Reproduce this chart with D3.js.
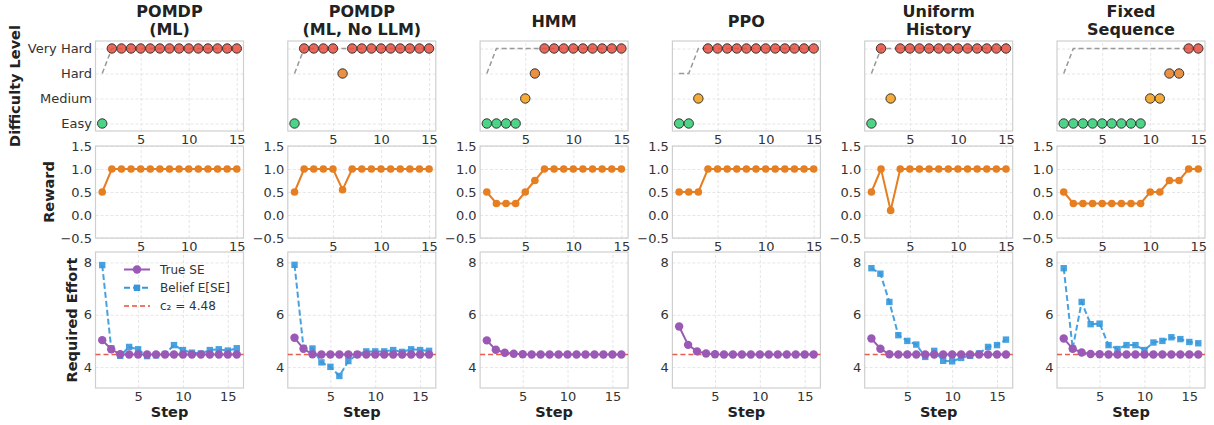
<!DOCTYPE html>
<html lang="en">
<head>
<meta charset="utf-8">
<title>Curriculum comparison</title>
<style>
  body { margin: 0; background: #fff; font-family: "DejaVu Sans", sans-serif; }
  .grid line { stroke: #e0e0e0; stroke-dasharray: 3,2; stroke-width: 0.8; }
  .grid path { display: none; }
  .ticks path { display: none; }
  .ticks text { font: 13px "DejaVu Sans", sans-serif; fill: #333; }
</style>
</head>
<body>
<svg id="chart"></svg>
<script src="https://cdn.jsdelivr.net/npm/d3@7/dist/d3.min.js"></script>
<script>
const width = 1214, height = 425;

// ---- data ----
const titles = [["POMDP", "(ML)"], ["POMDP", "(ML, No LLM)"], ["HMM"], ["PPO"], ["Uniform", "History"], ["Fixed", "Sequence"]];
const levelNames = ["Easy", "Medium", "Hard", "Very Hard"];
const levelColors = ["#2ecc71", "#f39c12", "#e67e22", "#e74c3c"];

// chosen difficulty per step (0 = Easy ... 3 = Very Hard), steps 1..15
const difficulty = [
  [0, 3, 3, 3, 3, 3, 3, 3, 3, 3, 3, 3, 3, 3, 3],
  [0, 3, 3, 3, 3, 2, 3, 3, 3, 3, 3, 3, 3, 3, 3],
  [0, 0, 0, 0, 1, 2, 3, 3, 3, 3, 3, 3, 3, 3, 3],
  [0, 0, 1, 3, 3, 3, 3, 3, 3, 3, 3, 3, 3, 3, 3],
  [0, 3, 1, 3, 3, 3, 3, 3, 3, 3, 3, 3, 3, 3, 3],
  [0, 0, 0, 0, 0, 0, 0, 0, 0, 1, 1, 2, 2, 3, 3]
];
// gray dashed reference level, steps 1..15
const targetLevel = [
  [2, 3, 3, 3, 3, 3, 3, 3, 3, 3, 3, 3, 3, 3, 3],
  [2, 3, 3, 3, 3, 3, 3, 3, 3, 3, 3, 3, 3, 3, 3],
  [2, 3, 3, 3, 3, 3, 3, 3, 3, 3, 3, 3, 3, 3, 3],
  [2, 2, 3, 3, 3, 3, 3, 3, 3, 3, 3, 3, 3, 3, 3],
  [2, 3, 3, 3, 3, 3, 3, 3, 3, 3, 3, 3, 3, 3, 3],
  [2, 3, 3, 3, 3, 3, 3, 3, 3, 3, 3, 3, 3, 3, 3]
];
// reward per step, steps 1..15
const reward = [
  [0.5, 1, 1, 1, 1, 1, 1, 1, 1, 1, 1, 1, 1, 1, 1],
  [0.5, 1, 1, 1, 1, 0.55, 1, 1, 1, 1, 1, 1, 1, 1, 1],
  [0.5, 0.25, 0.25, 0.25, 0.5, 0.75, 1, 1, 1, 1, 1, 1, 1, 1, 1],
  [0.5, 0.5, 0.5, 1, 1, 1, 1, 1, 1, 1, 1, 1, 1, 1, 1],
  [0.5, 1, 0.1, 1, 1, 1, 1, 1, 1, 1, 1, 1, 1, 1, 1],
  [0.5, 0.25, 0.25, 0.25, 0.25, 0.25, 0.25, 0.25, 0.25, 0.5, 0.5, 0.75, 0.75, 1, 1]
];
// true required effort, steps 1..16
const trueSE = [
  [5.03, 4.68, 4.49, 4.48, 4.48, 4.48, 4.48, 4.48, 4.48, 4.48, 4.48, 4.48, 4.48, 4.48, 4.48, 4.48],
  [5.12, 4.70, 4.49, 4.48, 4.48, 4.48, 4.48, 4.48, 4.48, 4.48, 4.48, 4.48, 4.48, 4.48, 4.48, 4.48],
  [5.02, 4.66, 4.55, 4.51, 4.49, 4.48, 4.48, 4.48, 4.48, 4.48, 4.48, 4.48, 4.48, 4.48, 4.48, 4.48],
  [5.55, 4.85, 4.60, 4.52, 4.49, 4.48, 4.48, 4.48, 4.48, 4.48, 4.48, 4.48, 4.48, 4.48, 4.48, 4.48],
  [5.09, 4.70, 4.49, 4.48, 4.48, 4.48, 4.48, 4.48, 4.48, 4.48, 4.48, 4.48, 4.48, 4.48, 4.48, 4.48],
  [5.09, 4.70, 4.56, 4.50, 4.49, 4.48, 4.48, 4.48, 4.48, 4.48, 4.48, 4.48, 4.48, 4.48, 4.48, 4.48]
];
// belief E[SE], steps 1..16 (not shown for HMM / PPO)
const beliefSE = [
  [7.90, 4.72, 4.43, 4.77, 4.68, 4.42, 4.45, 4.50, 4.84, 4.65, 4.55, 4.52, 4.65, 4.68, 4.63, 4.72],
  [7.91, 4.73, 4.71, 4.18, 4.01, 3.66, 4.23, 4.49, 4.60, 4.60, 4.60, 4.65, 4.58, 4.68, 4.65, 4.62],
  [],
  [],
  [7.78, 7.57, 6.49, 5.22, 5.00, 4.86, 4.39, 4.62, 4.24, 4.22, 4.35, 4.43, 4.52, 4.77, 4.84, 5.05],
  [7.78, 4.71, 6.49, 5.64, 5.66, 4.84, 4.69, 4.84, 4.84, 4.65, 4.94, 5.00, 5.14, 5.07, 4.96, 4.91]
];
const c2 = 4.48;
const rewardTicks = [-0.5, 0, 0.5, 1, 1.5];
const effortTicks = [4, 6, 8];
const stepTicks = [5, 10, 15];

// ---- layout ----
const col0 = 95.5, colStep = 192.3, plotW = 148;
const rows = [{top: 41, h: 90}, {top: 146, h: 92}, {top: 252, h: 136}];
const purple = "#9b59b6", blue = "#3498db", orange = "#e67e22", red = "#e74c3c";

const svg = d3.select("#chart").attr("width", width).attr("height", height);

function frame(g, x0, r) {
  g.append("rect").attr("x", x0).attr("y", r.top).attr("width", plotW).attr("height", r.h)
    .attr("fill", "none").attr("stroke", "#cfcfcf").attr("stroke-width", 1.2);
}

function grid(g, x, y, xt, yt, r, x0) {
  g.append("g").attr("class", "grid").attr("transform", `translate(0,${r.top + r.h})`)
    .call(d3.axisBottom(x).tickValues(xt).tickSize(-r.h).tickFormat(""));
  g.append("g").attr("class", "grid").attr("transform", `translate(${x0},0)`)
    .call(d3.axisLeft(y).tickValues(yt).tickSize(-plotW).tickFormat(""));
}

function xLabels(g, x, r) {
  const a = g.append("g").attr("class", "ticks").attr("transform", `translate(0,${r.top + r.h})`)
    .call(d3.axisBottom(x).tickValues(stepTicks).tickSize(0).tickPadding(3.5));
  a.selectAll("line").remove();
}

function yLabels(g, y, ticks, fmt, x0) {
  const a = g.append("g").attr("class", "ticks").attr("transform", `translate(${x0},0)`)
    .call(d3.axisLeft(y).tickValues(ticks).tickSize(0).tickPadding(3.5).tickFormat(fmt));
  a.selectAll("line").remove();
}

const minusFmt = d => d3.format(".1f")(d).replace("-", "\u2212");

titles.forEach((t, i) => {
  const x0 = col0 + i * colStep;
  const cx = x0 + plotW / 2;
  const g = svg.append("g");

  // title
  const base = t.length === 2 ? [17, 34.5] : [27];
  t.forEach((line, k) => {
    g.append("text").attr("x", cx).attr("y", base[k]).attr("text-anchor", "middle")
      .style("font", "bold 16px 'DejaVu Sans', sans-serif").attr("fill", "#222").text(line);
  });

  // ---- row 1: difficulty ----
  const r1 = rows[0];
  const x1 = d3.scaleLinear().domain([0.3, 15.7]).range([x0, x0 + plotW]);
  const y1 = d3.scaleLinear().domain([-0.3, 3.3]).range([r1.top + r1.h, r1.top]);
  grid(g, x1, y1, stepTicks, [0, 1, 2, 3], r1, x0);
  frame(g, x0, r1);
  g.append("path").datum(targetLevel[i])
    .attr("d", d3.line().x((d, k) => x1(k + 1)).y(d => y1(d)))
    .attr("fill", "none").attr("stroke", "#999").attr("stroke-width", 1.5).attr("stroke-dasharray", "5,3");
  g.append("g").selectAll("circle").data(difficulty[i]).join("circle")
    .attr("cx", (d, k) => x1(k + 1)).attr("cy", d => y1(d)).attr("r", 4.7)
    .attr("fill", d => levelColors[d]).attr("fill-opacity", 0.85)
    .attr("stroke", "#333").attr("stroke-width", 1);
  xLabels(g, x1, r1);
  if (i === 0) yLabels(g, y1, [0, 1, 2, 3], d => levelNames[d], x0);

  // ---- row 2: reward ----
  const r2 = rows[1];
  const y2 = d3.scaleLinear().domain([-0.5, 1.5]).range([r2.top + r2.h, r2.top]);
  grid(g, x1, y2, stepTicks, rewardTicks, r2, x0);
  frame(g, x0, r2);
  g.append("path").datum(reward[i])
    .attr("d", d3.line().x((d, k) => x1(k + 1)).y(d => y2(d)))
    .attr("fill", "none").attr("stroke", orange).attr("stroke-width", 2);
  g.append("g").selectAll("circle").data(reward[i]).join("circle")
    .attr("cx", (d, k) => x1(k + 1)).attr("cy", d => y2(d)).attr("r", 3.8).attr("fill", orange);
  xLabels(g, x1, r2);
  yLabels(g, y2, rewardTicks, minusFmt, x0);

  // ---- row 3: required effort ----
  const r3 = rows[2];
  const x3 = d3.scaleLinear().domain([0.25, 16.75]).range([x0, x0 + plotW]);
  const y3 = d3.scaleLinear().domain([3.2, 8.4]).range([r3.top + r3.h, r3.top]);
  grid(g, x3, y3, stepTicks, effortTicks, r3, x0);
  frame(g, x0, r3);
  g.append("line").attr("x1", x0).attr("x2", x0 + plotW).attr("y1", y3(c2)).attr("y2", y3(c2))
    .attr("stroke", red).attr("stroke-width", 1.5).attr("stroke-dasharray", "5,3").attr("opacity", 0.9);
  if (beliefSE[i].length) {
    g.append("path").datum(beliefSE[i])
      .attr("d", d3.line().x((d, k) => x3(k + 1)).y(d => y3(d)))
      .attr("fill", "none").attr("stroke", blue).attr("stroke-width", 2).attr("stroke-dasharray", "6,3")
      .attr("opacity", 0.9);
    g.append("g").selectAll("rect").data(beliefSE[i]).join("rect")
      .attr("x", (d, k) => x3(k + 1) - 3.2).attr("y", d => y3(d) - 3.2)
      .attr("width", 6.4).attr("height", 6.4).attr("fill", blue).attr("opacity", 0.9);
  }
  g.append("path").datum(trueSE[i])
    .attr("d", d3.line().x((d, k) => x3(k + 1)).y(d => y3(d)))
    .attr("fill", "none").attr("stroke", purple).attr("stroke-width", 2);
  g.append("g").selectAll("circle").data(trueSE[i]).join("circle")
    .attr("cx", (d, k) => x3(k + 1)).attr("cy", d => y3(d)).attr("r", 4.2).attr("fill", purple);
  xLabels(g, x3, r3);
  yLabels(g, y3, effortTicks, d3.format("d"), x0);

  g.append("text").attr("x", cx).attr("y", 417).attr("text-anchor", "middle")
    .style("font", "bold 14.5px 'DejaVu Sans', sans-serif").attr("fill", "#222").text("Step");
});

// y-axis titles
const yTitles = [
  {text: "Difficulty Level", x: 15, y: 86},
  {text: "Reward", x: 49, y: 192},
  {text: "Required Effort", x: 72, y: 320}
];
yTitles.forEach(t => {
  svg.append("text").attr("transform", `translate(${t.x},${t.y}) rotate(-90)`)
    .attr("text-anchor", "middle").attr("dominant-baseline", "central")
    .style("font", "bold 14.5px 'DejaVu Sans', sans-serif").attr("fill", "#222").text(t.text);
});

// legend in first effort panel
const legendItems = [
  {label: "True SE", color: purple, dash: null, marker: "circle"},
  {label: "Belief E[SE]", color: blue, dash: "6,3", marker: "square"},
  {label: "c\u2082 = 4.48", color: red, dash: "5,3", marker: null}
];
const lg = svg.append("g").attr("transform", "translate(124,269.5)");
legendItems.forEach((it, k) => {
  const row = lg.append("g").attr("transform", `translate(0,${k * 18.3})`);
  row.append("line").attr("x1", 0).attr("x2", 26).attr("stroke", it.color).attr("stroke-width", it.marker ? 2 : 1.5)
    .attr("stroke-dasharray", it.dash);
  if (it.marker === "circle") row.append("circle").attr("cx", 13).attr("r", 4.2).attr("fill", it.color);
  if (it.marker === "square") row.append("rect").attr("x", 9.8).attr("y", -3.2).attr("width", 6.4).attr("height", 6.4).attr("fill", it.color);
  row.append("text").attr("x", 36).attr("dy", "0.35em")
    .style("font", "12px 'DejaVu Sans', sans-serif").attr("fill", "#333").text(it.label);
});
</script>
</body>
</html>
